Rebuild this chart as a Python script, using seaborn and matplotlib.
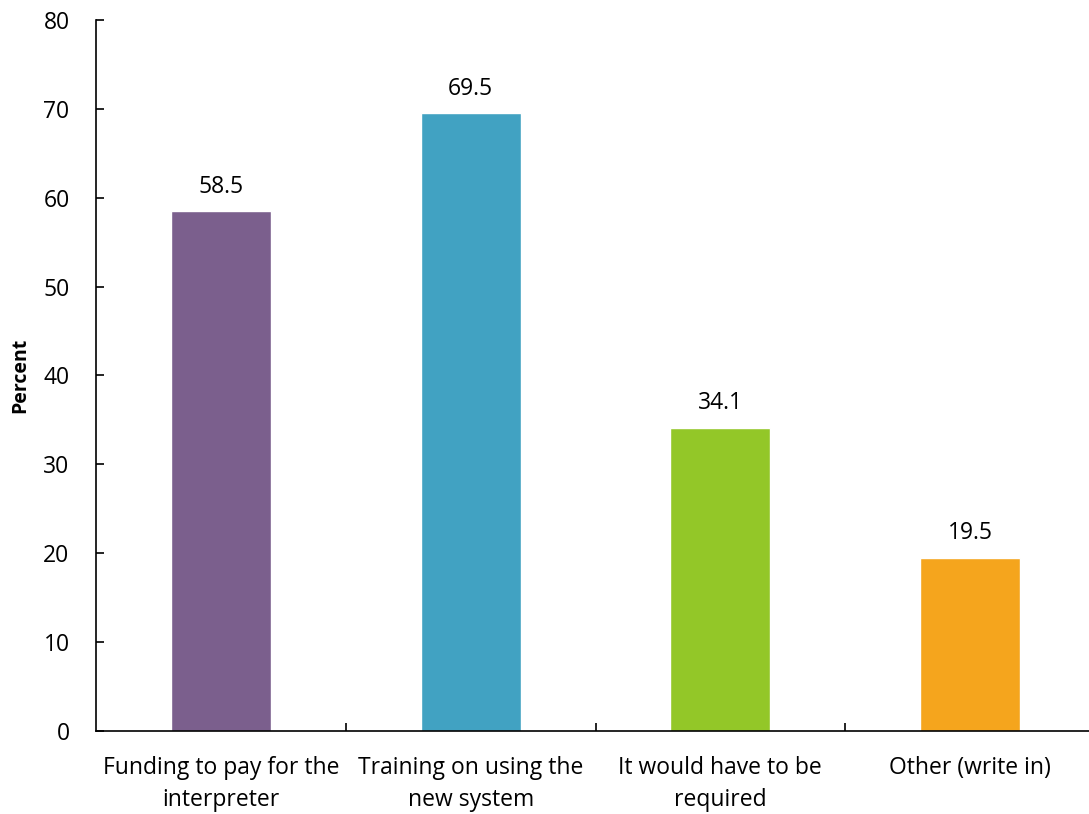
import matplotlib
matplotlib.use("Agg")
import matplotlib.pyplot as plt
import seaborn as sns
import pandas as pd
from matplotlib.ticker import FixedLocator, NullFormatter

categories = [
    "Funding to pay for the\ninterpreter",
    "Training on using the\nnew system",
    "It would have to be\nrequired",
    "Other (write in)",
]
values = [58.5, 69.5, 34.1, 19.5]
colors = ["#7B5F8D", "#41A2C2", "#93C728", "#F5A51D"]
y_ticks = [0, 10, 20, 30, 40, 50, 60, 70, 80]

sns.set_theme(style="white")
plt.rcParams["font.family"] = ["Open Sans", "DejaVu Sans"]
plt.rcParams["text.color"] = "black"
plt.rcParams["xtick.color"] = "black"
plt.rcParams["ytick.color"] = "black"
plt.rcParams["axes.labelcolor"] = "black"

df = pd.DataFrame({"category": categories, "value": values})

fig = plt.figure(figsize=(10.89, 8.14), dpi=100)
ax = fig.add_axes([96 / 1089, 83 / 814, 999 / 1089, 711 / 814])

sns.barplot(data=df, x="category", y="value", hue="category",
            palette=colors, width=0.4, legend=False, ax=ax, saturation=1)

fs = 16.5
ax.set_ylim(0, 80)
ax.set_xlim(-0.5, len(categories) - 0.5)
ax.set_yticks(y_ticks)
ax.tick_params(axis="y", direction="in", length=6, width=1.2, colors="black",
               labelsize=fs, pad=19, left=True)
ax.tick_params(axis="x", bottom=False, labelsize=fs, pad=12, colors="black")
ax.set_xticks(range(len(categories)))
ax.set_xticklabels(categories, linespacing=1.45)

# category separator ticks on the x axis
ax.xaxis.set_minor_locator(FixedLocator([i + 0.5 for i in range(len(categories) - 1)]))
ax.xaxis.set_minor_formatter(NullFormatter())
ax.tick_params(axis="x", which="minor", bottom=True, direction="in",
               length=6, width=1.2, color="black")

for side in ["top", "right"]:
    ax.spines[side].set_visible(False)
for side in ["left", "bottom"]:
    ax.spines[side].set_color("black")
    ax.spines[side].set_linewidth(1.2)

ax.set_xlabel("")
ax.set_ylabel("Percent", fontsize=14, fontweight="bold", color="black")
ax.yaxis.set_label_coords(-0.066, 0.5)

for container in ax.containers:
    ax.bar_label(container, fmt="%.1f", padding=9, fontsize=fs, color="black")

fig.savefig("out.png", dpi=100)
